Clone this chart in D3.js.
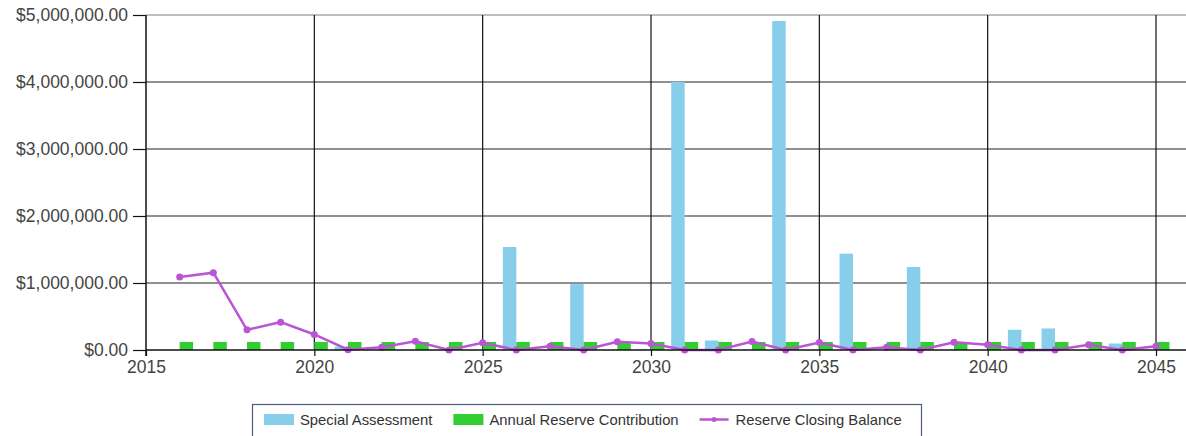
<!DOCTYPE html>
<html>
<head>
<meta charset="utf-8">
<script src="https://cdn.jsdelivr.net/npm/d3@7"></script>
<style>
  body { margin: 0; background: #fff; }
  svg { display: block; font-family: "Liberation Sans", Arial, sans-serif; }
</style>
</head>
<body>
<div id="chart"></div>
<script>
// years on the x axis
const years = d3.range(2016, 2046);

// special assessment per year (0 where no bar)
const specialAssessment = [
  0, 0, 0, 0, 0, 50000, 0, 0, 0, 0,
  1537000, 0, 984000, 0, 0, 4003000, 142000, 0, 4910000, 0,
  1438000, 0, 1238000, 0, 0, 302000, 321000, 0, 97000, 0
];

// annual reserve contribution, same every year
const annualContribution = years.map(() => 120000);

const closingBalance = [
  1088000, 1154000, 302000, 416000, 232000, 5000, 42000, 130000, 0, 108000,
  0, 57000, 0, 123000, 97000, 0, 0, 127000, 0, 112000,
  0, 42000, 0, 117000, 78000, 0, 0, 78000, 0, 57000
];

const xTicks = [2015, 2020, 2025, 2030, 2035, 2040, 2045];
const yTicks = [0, 1000000, 2000000, 3000000, 4000000, 5000000];

const legendItems = [
  { name: 'Special Assessment', color: '#87ceeb', type: 'bar' },
  { name: 'Annual Reserve Contribution', color: '#32cd32', type: 'bar' },
  { name: 'Reserve Closing Balance', color: '#ba55d3', type: 'line' }
];

const W = 1186, H = 436;
const mLeft = 146, mTop = 15, mBottom = 350, mRight = 1186;

const svg = d3.select('#chart').append('svg')
  .attr('width', W)
  .attr('height', H);

const x = d3.scaleLinear().domain([2015, 2045]).range([mLeft, 1156]);
const y = d3.scaleLinear().domain([0, 5000000]).range([mBottom, mTop]);
const bw = x(2015.4) - x(2015);

// horizontal grid
svg.append('g')
  .selectAll('line')
  .data(yTicks.slice(1, -1))
  .enter().append('line')
  .attr('x1', mLeft).attr('x2', mRight)
  .attr('y1', d => y(d)).attr('y2', d => y(d))
  .attr('stroke', '#222').attr('stroke-width', 1.2);

// top border
svg.append('line')
  .attr('x1', mLeft).attr('x2', mRight)
  .attr('y1', y(5000000)).attr('y2', y(5000000))
  .attr('stroke', '#a8a8a8').attr('stroke-width', 1.5);

// vertical grid
svg.append('g')
  .selectAll('line')
  .data(xTicks.slice(1))
  .enter().append('line')
  .attr('x1', d => x(d)).attr('x2', d => x(d))
  .attr('y1', mTop).attr('y2', mBottom)
  .attr('stroke', '#111').attr('stroke-width', 1.2);

// bars
svg.append('g')
  .selectAll('rect')
  .data(years.map((yr, i) => ({ yr, v: specialAssessment[i] })).filter(d => d.v > 0))
  .enter().append('rect')
  .attr('x', d => x(d.yr) - bw)
  .attr('y', d => y(d.v))
  .attr('width', bw)
  .attr('height', d => y(0) - y(d.v))
  .attr('fill', '#87ceeb');

svg.append('g')
  .selectAll('rect')
  .data(years.map((yr, i) => ({ yr, v: annualContribution[i] })))
  .enter().append('rect')
  .attr('x', d => x(d.yr))
  .attr('y', d => y(d.v))
  .attr('width', bw)
  .attr('height', d => y(0) - y(d.v))
  .attr('fill', '#32cd32');

// closing balance line
const pts = years.map((yr, i) => ({ yr, v: closingBalance[i] }));
svg.append('path')
  .datum(pts)
  .attr('fill', 'none')
  .attr('stroke', '#ba55d3')
  .attr('stroke-width', 2.5)
  .attr('d', d3.line().x(d => x(d.yr)).y(d => y(d.v)));

svg.append('g')
  .selectAll('circle')
  .data(pts)
  .enter().append('circle')
  .attr('cx', d => x(d.yr))
  .attr('cy', d => y(d.v))
  .attr('r', 3.5)
  .attr('fill', '#ba55d3');

// axes
const yAxis = svg.append('g')
  .attr('transform', `translate(${mLeft},0)`)
  .call(d3.axisLeft(y).tickValues(yTicks).tickFormat(d3.format('$,.2f')).tickSize(13).tickPadding(5));
yAxis.select('.domain').attr('stroke', '#111').attr('stroke-width', 1.5)
  .attr('d', `M0,${mTop}V${mBottom + 6}`);
yAxis.selectAll('.tick line').attr('stroke', '#111').attr('stroke-width', 1.2);
yAxis.selectAll('.tick text')
  .attr('fill', '#444').attr('font-size', '17.5px');

const xAxis = svg.append('g')
  .attr('transform', `translate(0,${mBottom})`)
  .call(d3.axisBottom(x).tickValues(xTicks).tickFormat(d3.format('d')).tickSize(6).tickPadding(5));
xAxis.select('.domain').attr('stroke', '#111').attr('stroke-width', 1.5)
  .attr('d', `M${mLeft},0H${mRight}`);
xAxis.selectAll('.tick line').attr('stroke', '#111').attr('stroke-width', 1.2);
xAxis.selectAll('.tick text')
  .attr('fill', '#444').attr('font-size', '17.5px');

// legend
const lg = svg.append('g');
lg.append('rect')
  .attr('x', 252.5).attr('y', 404.5)
  .attr('width', 669).attr('height', 40)
  .attr('fill', '#fff')
  .attr('stroke', '#4d5b7c').attr('stroke-width', 1.2);

let lx = 264;
legendItems.forEach(it => {
  const g = lg.append('g').attr('transform', `translate(${lx},0)`);
  if (it.type === 'bar') {
    g.append('rect').attr('x', 0).attr('y', 414).attr('width', 30).attr('height', 11).attr('fill', it.color);
  } else {
    g.append('line').attr('x1', 0).attr('x2', 29).attr('y1', 419.5).attr('y2', 419.5)
      .attr('stroke', it.color).attr('stroke-width', 2.5);
    g.append('circle').attr('cx', 14.5).attr('cy', 419.5).attr('r', 2.5).attr('fill', it.color);
  }
  const t = g.append('text')
    .attr('x', 36).attr('y', 425)
    .attr('fill', '#333').attr('font-size', '14.8px')
    .text(it.name);
  lx += 36 + t.node().getComputedTextLength() + 21;
});
</script>
</body>
</html>
